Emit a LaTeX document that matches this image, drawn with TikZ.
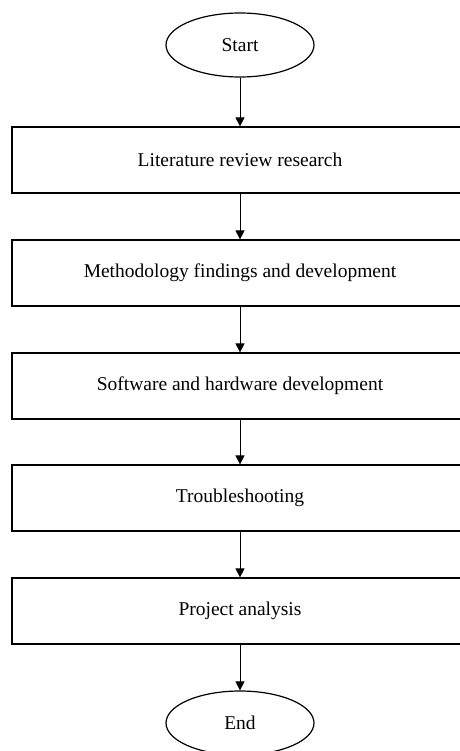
\documentclass[tikz,border=0pt]{standalone}
\usepackage{fontspec}
\setmainfont{Liberation Serif}
\usetikzlibrary{shapes.geometric,arrows.meta}
\begin{document}
\begin{tikzpicture}[x=1pt,y=1pt,
  stepbox/.style={draw, line width=1.2pt, rectangle, minimum width=456pt, minimum height=66pt, inner sep=0pt, font=\fontsize{19.5}{23}\selectfont},
  term/.style={draw, line width=1.2pt, ellipse, minimum width=148pt, minimum height=64pt, inner sep=0pt, font=\fontsize{19.5}{23}\selectfont},
  conn/.style={draw, line width=0.8pt, -{Triangle[length=9pt,width=9pt]}}]
\useasboundingbox (0,0) rectangle (459,-751);
\node[term] (start) at (240,-45) {Start};
\node[stepbox] (b1) at (240,-160) {Literature review research};
\node[stepbox] (b2) at (240,-273) {Methodology findings and development};
\node[stepbox] (b3) at (240,-386) {Software and hardware development};
\node[stepbox] (b4) at (240,-498) {Troubleshooting};
\node[stepbox] (b5) at (240,-611) {Project analysis};
\node[term] (end) at (240,-723) {End};
\draw[conn] (start) -- (b1);
\draw[conn] (b1) -- (b2);
\draw[conn] (b2) -- (b3);
\draw[conn] (b3) -- (b4);
\draw[conn] (b4) -- (b5);
\draw[conn] (b5) -- (end);
\end{tikzpicture}
\end{document}
